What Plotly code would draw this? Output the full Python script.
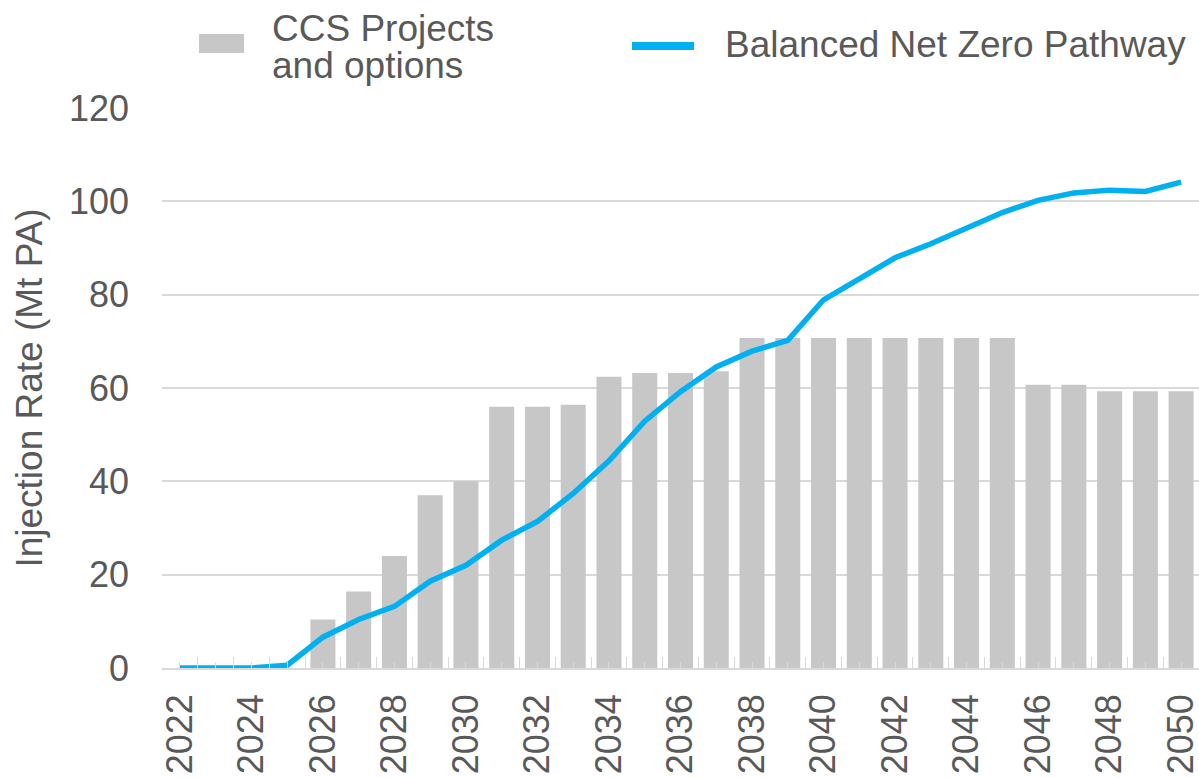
import plotly.graph_objects as go

# ---- data ----
years = list(range(2022, 2051))
ccs_projects = [0, 0, 0, 0,
                10.4, 16.4, 24.0, 37.0, 40.0, 56.0, 56.0, 56.4, 62.4, 63.2, 63.2, 63.6,
                70.7, 70.7, 70.7, 70.7, 70.7, 70.7, 70.7, 70.7,
                60.7, 60.7, 59.3, 59.3, 59.3]
net_zero_pathway = [0, 0, 0, 0.6,
                    6.6, 10.4, 13.2, 18.6, 22.0, 27.4, 31.4, 37.4, 44.4, 52.9, 59.2, 64.5,
                    67.9, 70.2, 78.9, 83.4, 87.9, 90.9, 94.3, 97.6,
                    100.2, 101.8, 102.4, 102.1, 104.1]
y_ticks = [0, 20, 40, 60, 80, 100, 120]
bar_name = "CCS Projects and options"
line_name = "Balanced Net Zero Pathway"

# ---- styling ----
FONT = "Liberation Sans, Arial, Helvetica, sans-serif"
TXT = "#595959"
GRID = "#D9D9D9"
BAR = "#C8C7C8"
LINE = "#00B0F0"
W, H = 1199, 778
L, R, T, B = 162, 0, 108, 110

fig = go.Figure()
fig.add_bar(x=years, y=ccs_projects, name=bar_name, marker_color=BAR,
            marker_line_width=0, width=0.7, showlegend=False)
fig.add_scatter(x=years, y=net_zero_pathway, mode="lines", name=line_name,
                line=dict(color=LINE, width=5.5), showlegend=False)

fig.update_layout(
    width=W, height=H,
    margin=dict(l=L, r=R, t=T, b=B, autoexpand=False),
    plot_bgcolor="white", paper_bgcolor="white",
    font=dict(family=FONT, color=TXT, size=36),
    showlegend=False,
    bargap=0.3,
)

fig.update_xaxes(
    range=[2021.5, 2050.5],
    automargin=False,
    tickmode="array", tickvals=years,
    ticktext=[str(y) if y % 2 == 0 else "" for y in years],
    tickangle=-90,
    ticks="inside", ticklen=6, tickcolor=GRID, tickwidth=1,
    minor=dict(tickmode="array", tickvals=[y - 0.5 for y in years] + [years[-1] + 0.5],
               ticks="inside", ticklen=11, tickcolor=GRID, tickwidth=1, showgrid=False),
    showline=True, linecolor=GRID, linewidth=1.5,
    showgrid=False, zeroline=False,
    tickfont=dict(size=36, color=TXT, family=FONT),
    ticklabelstandoff=10,
    ticklabeloverflow="allow",
)
fig.update_yaxes(
    range=[0, 120], tickmode="array", tickvals=y_ticks,
    automargin=False,
    showgrid=True, gridcolor=GRID, gridwidth=1.5,
    zeroline=False, showline=False, ticks="",
    tickfont=dict(size=36, color=TXT, family=FONT),
    ticklabelstandoff=32,
    title=dict(text="Injection Rate (Mt PA)", font=dict(size=37, color=TXT, family=FONT), standoff=14),
)

# ---- manual legend (pixel positions converted to paper coords) ----
pw, ph = W - L - R, H - T - B
def px(x):
    return (x - L) / pw
def py(y):
    return (H - B - y) / ph

fig.add_shape(type="rect", xref="paper", yref="paper",
              x0=px(199), x1=px(244), y0=py(53), y1=py(34),
              fillcolor=BAR, line_width=0)
fig.add_shape(type="line", xref="paper", yref="paper",
              x0=px(632), x1=px(694), y0=py(46), y1=py(46),
              line=dict(color=LINE, width=8))
for txt, x, y in [("CCS Projects", 270, 28), ("and options", 270, 65), (line_name, 723, 45)]:
    fig.add_annotation(text=txt, xref="paper", yref="paper", x=px(x), y=py(y),
                       xanchor="left", yanchor="middle", showarrow=False,
                       font=dict(size=37, color=TXT, family=FONT))

fig.write_html("out.html",
               config={"displayModeBar": False},
               post_script="document.body.style.margin='0';document.body.style.overflow='hidden';")
